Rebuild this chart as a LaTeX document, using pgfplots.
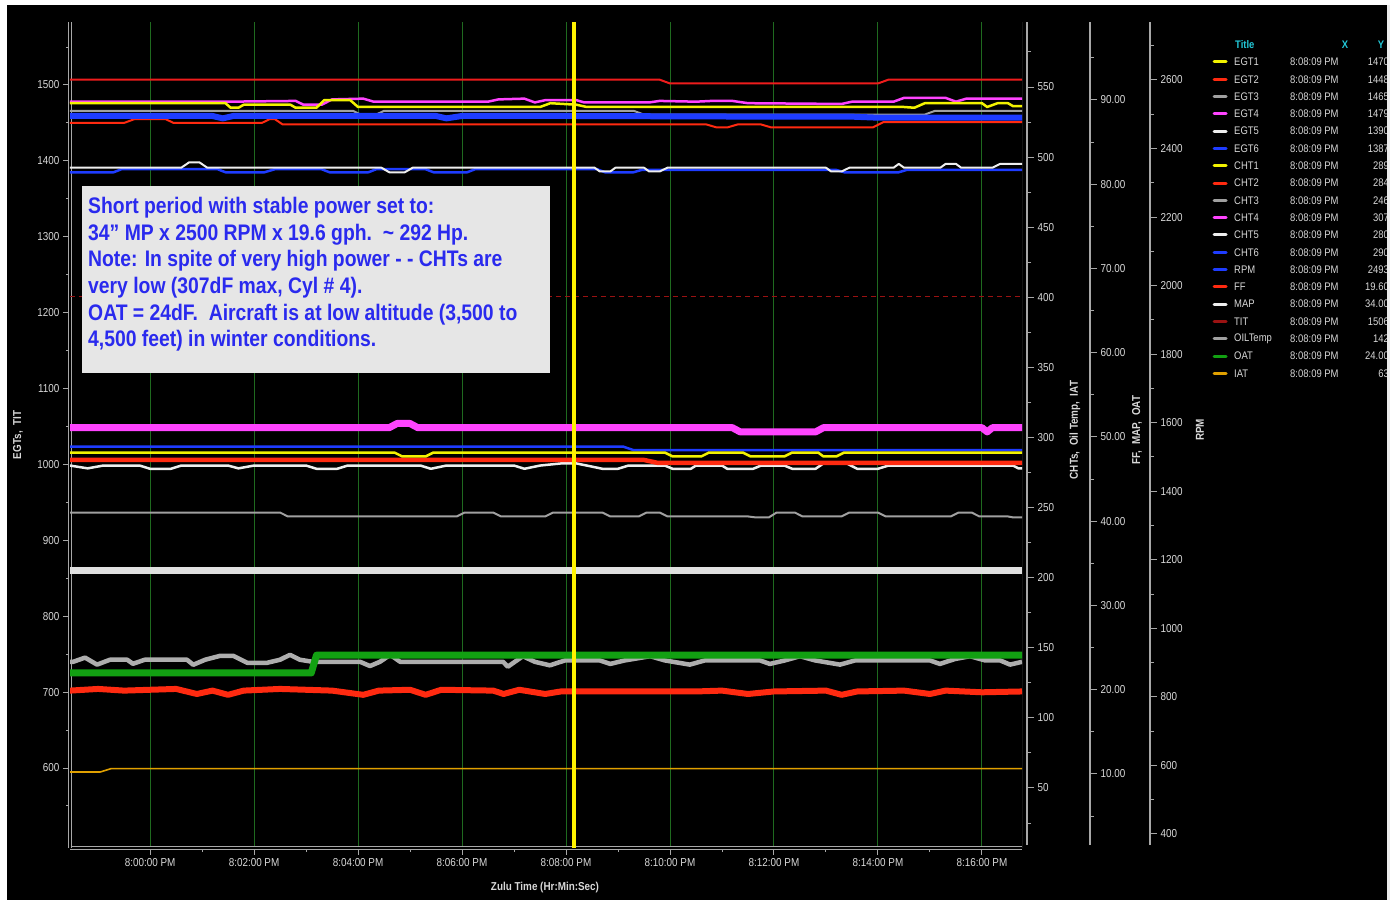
\documentclass[border=0pt]{standalone}
\usepackage{fontspec}
\setmainfont{Liberation Sans}[FakeStretch=0.86]
\usepackage{pgfplots}
\pgfplotsset{compat=1.18}
\definecolor{axgrey}{HTML}{A8A8A8}
\definecolor{lblgrey}{HTML}{D8D8D8}
\definecolor{cyellow}{HTML}{F2F200}
\definecolor{cred}{HTML}{FF2A10}
\definecolor{cgrey}{HTML}{A0A0A0}
\definecolor{cmag}{HTML}{FF44FF}
\definecolor{cwhite}{HTML}{EEEEEE}
\definecolor{cblue}{HTML}{1E3CFF}
\definecolor{ctit}{HTML}{EE1C1C}
\definecolor{cdkred}{HTML}{9A1212}
\definecolor{cgreen}{HTML}{12A012}
\definecolor{corange}{HTML}{E0A000}
\definecolor{cgrid}{HTML}{1F6A1F}
\definecolor{boxfill}{HTML}{E6E6E6}
\definecolor{boxtext}{HTML}{2A2AEE}
\definecolor{ccyan}{HTML}{22C8D8}
\pgfplotsset{
  every axis plot/.append style={line join=round},
  overlay/.style={at={(70pt,52pt)}, anchor=south west, scale only axis, width=952pt, height=826pt, xmin=-1.54, xmax=16.77, hide axis, clip=true},
  scaleax/.style={anchor=south west, scale only axis, width=1pt, height=823pt, xmin=0, xmax=1,
    axis x line=none, axis y line*=right, axis line style={axgrey, line width=1.2pt},
    tick style={axgrey, line width=1pt}, major tick length=7pt, minor tick length=4pt, tick align=outside,
    yticklabel style={font=\fontsize{11.5}{12}\selectfont, text=lblgrey},
    /pgf/number format/assume math mode=true, /pgf/number format/1000 sep={}},
}
\begin{document}
\begin{tikzpicture}[x=1pt,y=1pt]
\useasboundingbox (0,0) rectangle (1390,900);
\fill[white] (0,0) rectangle (1390,900);
\fill[black] (7,0) rectangle (1387,895);

% ---------------- main axis: EGTs, TIT ----------------
\begin{axis}[
 at={(70pt,52pt)}, anchor=south west, scale only axis, width=952pt, height=826pt,
 xmin=-1.54, xmax=16.77, ymin=494.6, ymax=1583,
 axis x line*=bottom, axis y line*=left,
 axis line style={axgrey, line width=1pt, double=black, double distance=2.5pt},
 xtick={0,2,...,16},
 xticklabels={8:00:00 PM,8:02:00 PM,8:04:00 PM,8:06:00 PM,8:08:00 PM,8:10:00 PM,8:12:00 PM,8:14:00 PM,8:16:00 PM},
 minor x tick num=1,
 ytick={600,700,...,1500},
 minor ytick={550,650,...,1550},
 tick align=outside, major tick length=7pt, minor tick length=4pt,
 tick style={axgrey, line width=1pt},
 xmajorgrids, major x grid style={cgrid, line width=1pt},
 ticklabel style={text=lblgrey, font=\fontsize{11.5}{12}\selectfont},
 /pgf/number format/assume math mode=true,
 /pgf/number format/1000 sep={},
 clip=true,
]
% limit line
\addplot[cdkred, line width=1.2pt, dash pattern=on 5pt off 4pt] coordinates {(-1.54,1221)(16.77,1221)};
% TIT
\addplot[ctit, line width=2pt] coordinates {(-1.54,1507)(9.8,1507)(10.0,1502)(14.0,1502)(14.2,1507)(16.77,1507)};
% EGT3 grey
\addplot[cgrey, line width=2pt] coordinates {(-1.54,1466)(3.9,1466)(4.05,1461)(4.35,1461)(4.5,1466)(9.3,1466)(9.5,1461)(14.9,1461)(15.1,1466)(16.77,1466)};
% EGT4 magenta
\addplot[cmag, line width=2.5pt] coordinates {(-1.54,1478)(1.5,1478)(2.8,1479)(2.95,1474)(3.3,1474)(3.5,1481)(4.1,1482)(4.3,1478)(6.5,1478)(6.7,1481)(7.2,1482)(7.4,1477)(7.6,1480)(8.2,1480)(8.35,1477)(9.6,1477)(9.8,1479)(10.5,1478)(10.8,1479)(11.2,1479)(11.5,1476)(13.3,1475)(13.5,1478)(14.3,1478)(14.5,1483)(15.3,1483)(15.5,1478)(15.7,1482)(16.77,1482)};
% EGT1 yellow
\addplot[cyellow, line width=2.5pt] coordinates {(-1.54,1476)(1.45,1476)(1.55,1470)(1.7,1470)(1.8,1474)(2.7,1474)(2.8,1470)(3.2,1470)(3.35,1480)(3.85,1480)(4.0,1471)(7.5,1471)(7.7,1476)(8.2,1474)(8.4,1471)(14.5,1471)(14.7,1470)(14.9,1476)(16.0,1476)(16.1,1471)(16.3,1476)(16.5,1476)(16.6,1472)(16.77,1472)};
% EGT2 red
\addplot[cred, line width=2pt] coordinates {(-1.54,1450)(-0.5,1450)(-0.3,1455)(0.3,1455)(0.45,1450)(2.15,1450)(2.3,1455)(2.4,1455)(2.55,1448)(10.7,1448)(10.9,1444)(11.1,1444)(11.3,1448)(11.75,1448)(11.95,1444)(13.9,1444)(14.1,1451)(16.77,1451)};
% EGT6 blue
\addplot[cblue, line width=2.5pt] coordinates {(-1.54,1385)(-0.7,1385)(-0.55,1389)(1.3,1389)(1.45,1385)(2.2,1385)(2.4,1389)(3.3,1389)(3.45,1385)(4.2,1385)(4.35,1389)(5.3,1389)(5.45,1385)(6.1,1385)(6.25,1389)(8.6,1389)(8.75,1385)(9.3,1385)(9.45,1388)(13.2,1388)(13.35,1385)(14.4,1385)(14.55,1388)(16.77,1388)};
% EGT5 white
\addplot[cwhite, line width=2pt] coordinates {(-1.54,1391)(0.6,1391)(0.75,1398)(0.95,1398)(1.1,1391)(4.45,1391)(4.6,1385)(4.9,1385)(5.05,1391)(8.55,1391)(8.65,1386)(8.85,1386)(8.95,1391)(9.5,1391)(9.6,1386)(9.8,1386)(9.95,1391)(13.0,1391)(13.1,1386)(13.3,1386)(13.45,1391)(14.3,1391)(14.4,1396)(14.5,1391)(15.2,1391)(15.3,1396)(15.5,1396)(15.6,1391)(16.2,1391)(16.35,1396)(16.77,1396)};
\draw[axgrey, line width=1pt] (rel axis cs:1,0) -- (rel axis cs:1,1);
\end{axis}

% ---------------- CHTs, Oil Temp, IAT ----------------
\begin{axis}[overlay, ymin=7.2, ymax=596.4]
% CHT3 grey
\addplot[cgrey, line width=2pt] coordinates {(-1.54,246.5)(2.5,246.5)(2.65,243.7)(5.9,243.7)(6.05,246.5)(6.6,246.5)(6.75,243.7)(7.6,243.7)(7.75,246.5)(8.7,246.5)(8.85,243.7)(9.4,243.7)(9.55,246.5)(9.8,246.5)(9.95,243.7)(11.5,243.7)(11.65,243)(11.9,243)(12.05,246.5)(12.4,246.5)(12.55,243.7)(13.3,243.7)(13.45,246.5)(14.0,246.5)(14.15,243.7)(15.4,243.7)(15.55,246.5)(15.8,246.5)(15.95,243.7)(16.5,243.7)(16.6,243)(16.77,243)};
% CHT5 white
\addplot[cwhite, line width=2.5pt] coordinates {(-1.54,280)(-1.2,278)(-0.9,280)(-0.2,280)(0.0,277.7)(0.4,277.7)(0.6,280)(1.5,280)(1.7,278)(2.0,280)(3.0,280)(3.2,277.7)(3.6,277.7)(3.8,280)(5.2,280)(5.4,277.7)(5.7,280)(7.0,280)(7.2,277.7)(7.5,280)(7.9,281.5)(8.2,281.5)(8.4,280)(8.7,277.7)(9.0,277.7)(9.2,280)(9.9,280)(10.05,277.7)(10.4,277.7)(10.5,280)(11.0,280)(11.1,277.7)(11.6,277.7)(11.75,280)(12.2,280)(12.35,277.7)(12.8,277.7)(12.95,281.5)(13.4,281.5)(13.6,277.7)(14.0,277.7)(14.2,280)(16.6,280)(16.7,278)(16.77,278)};
% CHT2 red
\addplot[cred, line width=4.5pt] coordinates {(-1.54,284)(9.5,284)(9.75,282)(16.77,282)};
% CHT6 blue
\addplot[cblue, line width=2.5pt] coordinates {(-1.54,293.5)(9.1,293.5)(9.3,291)(16.77,291)};
% CHT1 yellow
\addplot[cyellow, line width=2.5pt] coordinates {(-1.54,289.3)(4.7,289.3)(4.85,286.5)(5.3,286.5)(5.45,289.3)(9.9,289.3)(10.05,286.5)(10.6,286.5)(10.75,289.3)(11.4,289.3)(11.55,286.5)(12.2,286.5)(12.35,289.3)(12.85,289.3)(12.95,286.5)(13.2,286.5)(13.35,289.3)(16.77,289.3)};
% CHT4 magenta
\addplot[cmag, line width=7pt] coordinates {(-1.54,307)(4.6,307)(4.75,310)(5.0,310)(5.15,307)(11.2,307)(11.35,304)(12.8,304)(12.95,307)(16.0,307)(16.1,304)(16.2,307)(16.77,307)};
% Oil temp grey
\addplot[cgrey!85!white, line width=4.5pt] coordinates {(-1.54,140)(-1.48,140)(-1.25,143)(-1.02,138)(-0.77,141.5)(-0.44,141.5)(-0.33,138.6)(-0.1,141.5)(0.71,141.5)(0.83,137.9)(1.06,141.5)(1.35,144.3)(1.6,144.3)(1.87,139.3)(2.25,139.3)(2.5,141.5)(2.69,145)(2.88,141.5)(3.13,140)(4.04,140)(4.23,137)(4.42,140)(4.62,145)(4.81,140)(6.79,140)(6.88,136.5)(7.17,144)(7.4,140)(7.69,137.5)(7.98,141)(8.65,141)(8.85,138.5)(9.13,141)(9.62,144)(9.9,141)(10.38,138)(10.67,141)(11.73,141)(11.92,138.5)(12.21,141)(12.5,144)(12.79,141)(13.27,138)(13.56,141)(15.0,141)(15.19,138.5)(15.48,142)(15.77,144)(16.06,141)(16.35,141)(16.54,138)(16.77,140)};
% IAT orange
\addplot[corange, line width=1.6pt] coordinates {(-1.54,61.4)(-0.96,61.4)(-0.75,63.8)(16.77,63.8)};
\end{axis}

% ---------------- FF, MAP, OAT ----------------
\begin{axis}[overlay, ymin=1.22, ymax=99.26]
% MAP
\addplot[white!88!black, line width=7pt] coordinates {(-1.54,34.1)(16.77,34.1)};
% OAT green
\addplot[cgreen, line width=7pt] coordinates {(-1.54,22)(3.1,22)(3.2,24.1)(16.77,24.1)};
% FF red
\addplot[cred, line width=6pt] coordinates {(-1.54,19.9)(-1.0,20.1)(-0.5,19.9)(0.5,20.1)(0.9,19.5)(1.2,19.9)(1.5,19.4)(1.8,19.9)(2.5,20.1)(3.5,19.9)(4.1,19.4)(4.4,19.9)(5.0,20.0)(5.3,19.4)(5.6,20.0)(6.6,19.9)(6.8,19.5)(7.1,20.0)(7.6,19.5)(7.9,19.8)(9.0,19.8)(10.5,19.8)(11.0,19.9)(11.5,19.5)(12.0,19.8)(13.0,19.9)(13.3,19.4)(13.6,19.8)(14.5,19.9)(15.0,19.5)(15.3,19.9)(16.0,19.7)(16.77,19.8)};
\end{axis}

% ---------------- RPM ----------------
\begin{axis}[overlay, ymin=359.2, ymax=2769.2]
\addplot[cblue, line width=6pt] coordinates {(-1.54,2495)(1.2,2495)(1.4,2488)(1.6,2495)(5.5,2495)(5.7,2488)(6.0,2495)(8.0,2495)(12.0,2493)(13.5,2493)(14.0,2490)(16.77,2490)};
% cursor
\addplot[yellow, line width=4pt] coordinates {(8.15,359.2)(8.15,2769.2)};
\end{axis}

% ---------------- scale axes ----------------
\begin{axis}[scaleax, at={(1026pt,55pt)}, ymin=9.34, ymax=596.4, ytick={50,100,...,550}, minor ytick={25,75,...,575}]
\end{axis}
\begin{axis}[scaleax, at={(1089pt,55pt)}, ymin=1.57, ymax=99.26, ytick={10,20,...,90}, minor ytick={5,15,...,95},
  /pgf/number format/.cd, fixed, fixed zerofill, precision=2]
\end{axis}
\begin{axis}[scaleax, at={(1149pt,55pt)}, ymin=367.9, ymax=2769.2, ytick={400,600,...,2600}, minor ytick={500,700,...,2700}]
\end{axis}

% ---------------- axis titles ----------------
\begin{scope}[every node/.style={text=lblgrey, font=\fontsize{11.5}{12}\selectfont\bfseries}]
\node[rotate=90] at (18,465) {EGTs,\ \ TIT};
\node[rotate=90] at (1075,470) {CHTs,\ \ Oil Temp,\ \ IAT};
\node[rotate=90] at (1137,470) {FF,\ \ MAP,\ \ OAT};
\node[rotate=90] at (1200,470) {RPM};
\node at (545,12) {Zulu Time (Hr:Min:Sec)};
\end{scope}

% ---------------- annotation box ----------------
\fill[boxfill] (82,527) rectangle (550,714);
\begin{scope}[every node/.style={anchor=base west, inner sep=0pt, text=boxtext, font=\fontsize{22.5}{26}\selectfont\bfseries}]
\node at (88,686.5) {Short period with stable power set to:};
\node at (88,659.8) {34" MP x 2500 RPM x 19.6 gph.\ \ \textasciitilde\ 292 Hp.};
\node at (88,633.1) {Note: In spite of very high power - - CHTs are};
\node at (88,606.4) {very low (307dF max, Cyl \# 4).};
\node at (88,579.7) {OAT = 24dF.\ \ Aircraft is at low altitude (3,500 to};
\node at (88,553.0) {4,500 feet) in winter conditions.};
\end{scope}

% ---------------- legend ----------------
\begin{scope}[every node/.style={inner sep=0pt, font=\fontsize{11}{12}\selectfont}]
\node[anchor=west, text=ccyan, font=\fontsize{11}{12}\selectfont\bfseries] at (1235,855) {Title};
\node[text=ccyan, font=\fontsize{11}{12}\selectfont\bfseries] at (1345,855) {X};
\node[text=ccyan, font=\fontsize{11}{12}\selectfont\bfseries] at (1381,855) {Y};
\foreach \i/\nm/\yv/\col in {0/EGT1/1470/cyellow, 1/EGT2/1448/cred, 2/EGT3/1465/cgrey, 3/EGT4/1479/cmag, 4/EGT5/1390/cwhite, 5/EGT6/1387/cblue, 6/CHT1/289/cyellow, 7/CHT2/284/cred, 8/CHT3/246/cgrey, 9/CHT4/307/cmag, 10/CHT5/280/cwhite, 11/CHT6/290/cblue, 12/RPM/2493/cblue, 13/FF/19.60/cred, 14/MAP/34.00/cwhite, 15/TIT/1506/cdkred, 16/OILTemp/142/cgrey, 17/OAT/24.00/cgreen, 18/IAT/63/corange}{
  \pgfmathsetmacro{\yy}{900-62-17.3*\i}
  \draw[\col, line width=3pt, line cap=round] (1214,\yy) -- (1226,\yy);
  \node[anchor=west, text=lblgrey] at (1234,\yy) {\nm};
  \node[anchor=west, text=lblgrey] at (1290,\yy) {8:08:09 PM};
  \node[anchor=east, text=lblgrey] at (1389,\yy) {\yv};
}
\end{scope}
\fill[white!92!black] (1387,0) rectangle (1390,895);
\end{tikzpicture}
\end{document}
